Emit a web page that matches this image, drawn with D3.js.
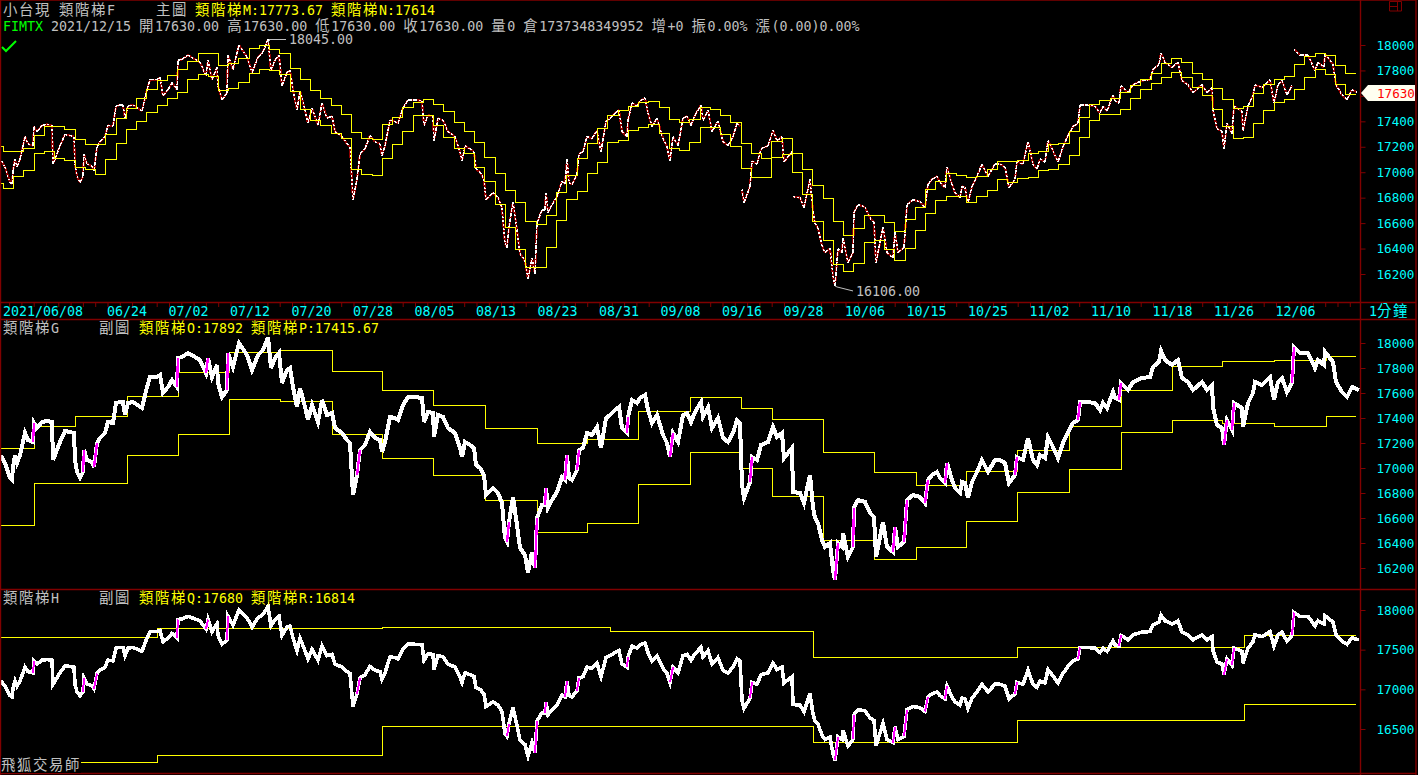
<!DOCTYPE html>
<html><head><meta charset="utf-8">
<script src="https://cdnjs.cloudflare.com/ajax/libs/d3/7.8.5/d3.min.js"></script>
<style>html,body{margin:0;padding:0;background:#000;overflow:hidden}svg{display:block}</style>
</head><body><svg id="c" width="1418" height="775"></svg>
<script>
const barIndex=[2,5,10,12,13,15,17,20,23,25,28,33,34,37,42,47,52,53,55,60,65,70,74,75,77,80,83,84,87,92,94,97,100,105,108,113,116,120,123,125,128,133,142,147,150,157,160,163,168,172,177,178,182,188,195,200,206,208,212,217,218,222,227,228,233,239,247,252,258,263,268,271,275,279,282,287,290,293,297,300,305,308,312,318,322,327,332,335,342,347,350,353,357,360,365,370,375,380,382,385,390,395,398,403,408,415,422,424,428,433,434,438,443,448,455,460,462,465,470,474,476,480,484,486,493,498,502,505,507,509,513,517,520,525,528,532,535,537,542,545,546,548,552,557,562,565,567,569,572,577,579,583,587,592,597,601,606,610,615,619,622,627,628,632,637,640,645,648,652,657,663,667,670,673,678,683,687,691,695,701,703,708,712,718,723,728,733,737,740,742,744,750,752,757,761,768,773,777,782,784,792,793,800,804,810,813,815,818,822,825,830,833,835,838,842,843,848,853,854,858,865,870,874,876,879,883,887,893,895,898,904,907,913,920,925,928,932,937,940,945,947,952,955,960,962,965,968,972,977,982,988,995,1000,1005,1009,1015,1017,1023,1028,1033,1037,1040,1045,1048,1053,1058,1063,1068,1073,1078,1080,1087,1095,1100,1103,1107,1113,1115,1119,1121,1128,1133,1142,1150,1153,1159,1161,1165,1172,1178,1182,1188,1193,1202,1207,1212,1213,1217,1222,1224,1227,1232,1234,1242,1243,1248,1253,1255,1262,1270,1274,1278,1282,1287,1292,1294,1300,1308,1315,1318,1324,1325,1333,1336,1342,1347,1352,1357];
const closes=[17088,17040,16920,16904,17008,17104,17040,17104,17208,17280,17224,17208,17360,17320,17368,17376,17368,17064,17104,17208,17296,17288,17280,17064,16968,16920,16968,17144,17064,17048,17008,17200,17240,17280,17368,17360,17520,17528,17528,17424,17520,17528,17480,17648,17728,17728,17744,17600,17648,17704,17648,17880,17888,17920,17888,17864,17760,17880,17728,17824,17680,17568,17624,17920,17808,18000,17904,17784,17904,17944,18045,17800,17880,17920,17680,17784,17800,17648,17488,17640,17488,17384,17504,17368,17544,17424,17440,17320,17280,17224,17200,16784,16944,17144,17184,17288,17240,17224,17128,17208,17408,17400,17384,17504,17568,17568,17560,17368,17448,17440,17248,17424,17408,17320,17280,17160,17088,17208,17184,17160,17024,17000,16944,16784,16840,16800,16720,16440,16408,16568,16768,16544,16360,16304,16160,16328,16200,16600,16704,16704,16840,16680,16744,16808,16928,16904,17104,16920,16904,16984,17144,17160,17280,17264,17328,17160,17400,17424,17464,17488,17320,17280,17408,17544,17520,17560,17584,17464,17360,17424,17264,17200,17088,17280,17208,17424,17440,17368,17448,17528,17408,17488,17320,17400,17240,17208,17280,17384,17360,16864,16760,16888,17088,17064,17184,17208,17328,17248,17280,17080,17160,16808,16800,16720,16944,16688,16600,16560,16424,16368,16400,16184,16106,16400,16368,16480,16288,16368,16680,16744,16728,16640,16608,16288,16408,16568,16368,16328,16528,16368,16408,16744,16784,16768,16720,16904,16944,16968,16920,16880,17040,16904,16840,16800,16888,16880,16760,16888,16968,17064,16968,17064,17064,17040,16880,16944,17088,17064,17240,17064,17024,17104,17080,17248,17168,17080,17200,17288,17360,17384,17528,17528,17520,17464,17520,17480,17608,17560,17544,17680,17624,17688,17720,17728,17808,17848,17936,17864,17824,17864,17720,17688,17624,17688,17624,17664,17488,17344,17320,17184,17384,17304,17520,17480,17328,17520,17600,17688,17664,17728,17544,17688,17720,17608,17680,17968,17920,17920,17800,17864,17824,17928,17848,17688,17608,17568,17648,17630];
const gapBars=[742,793,1294];
const ladderM=[17201,17162,17162,17183,17288,17358,17358,17337,17259,17220,17214,17298,17424,17503,17581,17647,17720,17757,17804,17869,17935,17930,17835,17851,17895,17974,18000,17966,17930,17817,17730,17639,17581,17521,17455,17311,17267,17259,17372,17432,17510,17547,17573,17529,17476,17392,17321,17235,17117,16991,16857,16763,16614,16588,16661,16842,16973,17104,17227,17347,17442,17486,17520,17549,17557,17510,17415,17394,17415,17510,17494,17447,17392,17227,17148,17109,17240,17266,17148,17023,16899,16795,16616,16504,16554,16661,16661,16606,16535,16630,16724,16865,16926,16991,16978,16962,16970,17023,17083,17086,17096,17149,17164,17219,17227,17321,17432,17534,17563,17581,17628,17683,17725,17778,17856,17896,17864,17778,17730,17660,17568,17502,17516,17620,17691,17730,17754,17843,17909,17935,17919,17840,17773.67];
const ladderN=[16913,16874,16965,17013,17149,17162,17104,17091,17036,17018,16979,17102,17227,17337,17400,17468,17526,17578,17628,17730,17770,17751,17641,17660,17707,17778,17809,17799,17765,17634,17495,17406,17364,17306,17267,17023,16979,16971,17110,17214,17324,17445,17445,17364,17275,17185,17148,17038,16928,16747,16567,16391,16252,16252,16409,16622,16787,16850,16991,17077,17235,17250,17326,17353,17376,17305,17185,17172,17235,17353,17353,17298,17206,17030,16960,16960,17117,17143,17000,16826,16616,16467,16271,16221,16284,16449,16462,16389,16310,16402,16538,16677,16779,16813,16813,16761,16808,16860,16944,16921,16952,16960,17015,17025,17062,17135,17274,17408,17455,17455,17495,17581,17647,17699,17746,17785,17746,17668,17602,17495,17358,17267,17275,17385,17484,17550,17573,17652,17746,17804,17770,17691,17614];
const weekBars=[1,34,75,127,178,229,280,332,382,433,485,537,587,638,690,741,772,823,874,916,966,1017,1069,1121,1172,1222,1274,1326,1356];
const ladderO=[17158,17336,17416,17574,17766,17928,17942,17774,17622,17502,17318,17198,17230,17454,17566,17478,17390,17126,16966,16862,16974,17142,17334,17622,17814,17854,17862,17892];
const ladderP=[16542,16878,16878,17102,17270,17550,17534,17270,17078,16942,16742,16486,16558,16870,17126,16998,16774,16422,16270,16366,16574,16806,16990,17286,17382,17358,17334,17415.67];
const monthBars=[1,157,382,610,813,1017,1244,1356];
const ladderQ=[17656,17769,17782,17735,17407,17533,17680];
const ladderR=[16079,16168,16533,16533,16335,16613,16814];
const dateLabels=["06/24","07/02","07/12","07/20","07/28","08/05","08/13","08/23","08/31","09/08","09/16","09/28","10/06","10/15","10/25","11/02","11/10","11/18","11/26","12/06"];
const priceTicks=[16200,16400,16600,16800,17000,17200,17400,17600,17800,18000];
const lowerTicks=[16500,17000,17500,18000];

const RED="#800000",CANDLE="#8B0000",CY="#00FFFF",YL="#FFFF00",GR="#C0C0C0",MONO="'DejaVu Sans Mono',monospace",CJK="'Noto Sans CJK TC',sans-serif";
const svg=d3.select("#c");
svg.append("rect").attr("width",1418).attr("height",775).attr("fill","#000");
const x=d3.scaleLinear().domain([0,1357]).range([0,1357]);
const y1=d3.scaleLinear().domain([16200,18000]).range([274,45]);
const y2=d3.scaleLinear().domain([16200,18000]).range([568,343]);
const y3=d3.scaleLinear().domain([16500,18000]).range([729,610]);
const rungX=d3.scaleLinear().domain([0,132]).range([3.3,1356]);

function steps(g,xs,vals,yS,cls){
  const pts=vals.map((v,i)=>[xs[i],v]); pts.push([xs[xs.length-1],vals[vals.length-1]]);
  g.append("path").attr("class",cls).datum(pts)
   .attr("d",d3.line().curve(d3.curveStepAfter).x(d=>x(d[0])).y(d=>yS(d[1])))
   .attr("fill","none").attr("stroke",YL).attr("stroke-width",1).attr("shape-rendering","crispEdges");
}
const segs=d3.range(1,closes.length).map(i=>({x0:barIndex[i-1],x1:barIndex[i],c0:closes[i-1],c1:closes[i]}));

/* top panel */
const p1=svg.append("g");
const rungStarts=ladderM.map((_,j)=>j===0?1:rungX(j-1));
rungStarts.push(1356);
const drawn=segs.filter(s=>!gapBars.includes(s.x1));
p1.selectAll("line.u").data(drawn).join("line").attr("class","u")
  .attr("x1",d=>x(d.x0)).attr("x2",d=>x(d.x1)).attr("y1",d=>y1(d.c0)).attr("y2",d=>y1(d.c1))
  .attr("stroke",CANDLE).attr("stroke-width",2.2).attr("shape-rendering","crispEdges");
p1.selectAll("line.t").data(drawn).join("line").attr("class","t")
  .attr("x1",d=>x(d.x0)).attr("x2",d=>x(d.x1)).attr("y1",d=>y1(d.c0)).attr("y2",d=>y1(d.c1))
  .attr("stroke","#fff").attr("stroke-width",1.4).attr("stroke-dasharray",d=>d.c1>=d.c0?"4 1":"2 2").attr("shape-rendering","crispEdges");
steps(p1,rungStarts,ladderM,y1,"m");
steps(p1,rungStarts,ladderN,y1,"n");

/* middle & lower panels */
function thick(yS,w,wm){
  const g=svg.append("g");
  g.append("path").datum(barIndex.map((b,i)=>[b,closes[i]]))
   .attr("d",d3.line().x(d=>x(d[0])).y(d=>yS(d[1]))).attr("fill","none").attr("stroke","#fff")
   .attr("stroke-width",w).attr("stroke-linejoin","miter").attr("stroke-linecap","square").attr("shape-rendering","crispEdges");
  g.selectAll("line").data(segs.filter(s=>s.c1-s.c0>=120&&(s.c1-s.c0)/(s.x1-s.x0)>=60)).join("line")
   .attr("x1",d=>x(d.x0)).attr("x2",d=>x(d.x1)).attr("y1",d=>yS(d.c0)).attr("y2",d=>yS(d.c1))
   .attr("stroke","#FF00FF").attr("stroke-width",wm).attr("shape-rendering","crispEdges");
}
const p2=svg.append("g");
steps(p2,weekBars,ladderO,y2,"o");
steps(p2,weekBars,ladderP,y2,"p");
thick(y2,4,2.4);
const p3=svg.append("g");
steps(p3,monthBars,ladderQ,y3,"q");
steps(p3,monthBars,ladderR,y3,"r");
thick(y3,3.6,2);

/* frame */
[[0,0,1416,0],[0,302.5,1416,302.5],[0,319.5,1416,319.5],[0,589.5,1416,589.5],[0,773.5,1416,773.5],[0.5,0,0.5,775],[1360.5,0,1360.5,775],[1416,0,1416,775]].forEach(l=>{
  svg.append("line").attr("x1",l[0]).attr("y1",l[1]).attr("x2",l[2]).attr("y2",l[3]).attr("stroke",RED).attr("stroke-width",1.4);
});

/* axes */
function rightAxis(yS,ticks){
  const g=svg.append("g").attr("transform","translate(1360.5,0)").call(d3.axisRight(yS).tickValues(ticks).tickFormat(d3.format("d")).tickSize(5).tickPadding(11));
  g.select(".domain").remove();
  g.selectAll("line").attr("stroke",RED);
  g.selectAll("text").attr("fill",CY).attr("font-family",MONO).attr("font-size",12.6);
}
rightAxis(y1,priceTicks);rightAxis(y2,priceTicks);rightAxis(y3,lowerTicks);

const tickX=d3.scaleLinear().domain([0,110]).range([9.6,1362.6]);
const tk=svg.append("g");
tk.selectAll("line").data(d3.range(0,110)).join("line")
 .attr("x1",d=>tickX(d)).attr("x2",d=>tickX(d)).attr("y1",302).attr("y2",307).attr("stroke",RED).attr("stroke-width",1);

const isC=/[\u2E80-\u9FFF]/;
function mixed(px,py,str,color){
  const t=svg.append("text").attr("x",px).attr("y",py).attr("fill",color).attr("xml:space","preserve").style("white-space","pre");
  const runs=str.match(/[\u2E80-\u9FFF]+|[^\u2E80-\u9FFF]+/g);
  const style=(e,c)=>e.attr("font-family",c?CJK:MONO).attr("font-size",c?14.4:13.3).attr("letter-spacing",c?1.6:0);
  if(runs.length===1){style(t,isC.test(str)).text(str);return t;}
  runs.forEach(r=>style(t.append("tspan").text(r),isC.test(r)));
  return t;
}
mixed(3,316,"2021/06/08",CY);
dateLabels.forEach((d,i)=>mixed(tickX(8+5*i)-1,316,d,CY));
mixed(1369,316,"1分鐘",CY);

mixed(3,14.5,"小台現",GR);mixed(59,14.5,"類階梯F",GR);mixed(156,14.5,"主圖",GR);
mixed(195,14.5,"類階梯M:17773.67",YL);mixed(331,14.5,"類階梯N:17614",YL);
mixed(3,31,"FIMTX","#00FF00");
mixed(51,31,"2021/12/15 開17630.00 高17630.00 低17630.00 收17630.00 量0 倉1737348349952 增+0 振0.00% 漲(0.00)0.00%",GR);
mixed(3,332.5,"類階梯G",GR);mixed(99,332.5,"副圖",GR);mixed(139,332.5,"類階梯O:17892",YL);mixed(251,332.5,"類階梯P:17415.67",YL);
mixed(3,603,"類階梯H",GR);mixed(99,603,"副圖",GR);mixed(139,603,"類階梯Q:17680",YL);mixed(251,603,"類階梯R:16814",YL);

svg.append("rect").attr("x",1).attr("y",756).attr("width",80).attr("height",17).attr("fill","#000");
mixed(1,770,"飛狐交易師",GR);

/* extremes */
const hi=d3.max(closes),lo=d3.min(closes),hiX=barIndex[closes.indexOf(hi)],loX=barIndex[closes.indexOf(lo)];
svg.append("path").attr("d",d3.line()([[x(hiX),y1(hi)+4],[x(hiX)+2,y1(hi)],[x(hiX)+18,y1(hi)]])).attr("fill","none").attr("stroke",GR).attr("shape-rendering","crispEdges");
mixed(x(hiX)+21,y1(hi)+5,d3.format(".2f")(hi),GR);
svg.append("path").attr("d",d3.line()([[x(loX),y1(lo)],[x(loX)+2,y1(lo)+1],[x(loX)+18,y1(lo)+5]])).attr("fill","none").attr("stroke",GR);
mixed(x(loX)+21,y1(lo)+10,d3.format(".2f")(lo),GR);

/* last price tag */
const last=closes[closes.length-1],ty=y1(last)+1;
svg.append("path").attr("d",d3.line()([[1361,ty],[1368,ty-8],[1415,ty-8],[1415,ty+8],[1368,ty+8]])+"Z").attr("fill","#FFFFF0");
svg.append("text").attr("x",1377).attr("y",ty+5).attr("fill","#FF0000").attr("font-family",MONO).attr("font-size",12.6).text(d3.format("d")(last));

/* widgets */
svg.append("path").attr("d","M1389.5 1.5H1401.5V11H1389.5ZM1397.5 1.5V11M1389.5 6.5H1397.5").attr("fill","none").attr("stroke",RED);
svg.append("path").attr("d","M2 47L6 51L16 41").attr("fill","none").attr("stroke","#00FF00").attr("stroke-width",2);
</script></body></html>
